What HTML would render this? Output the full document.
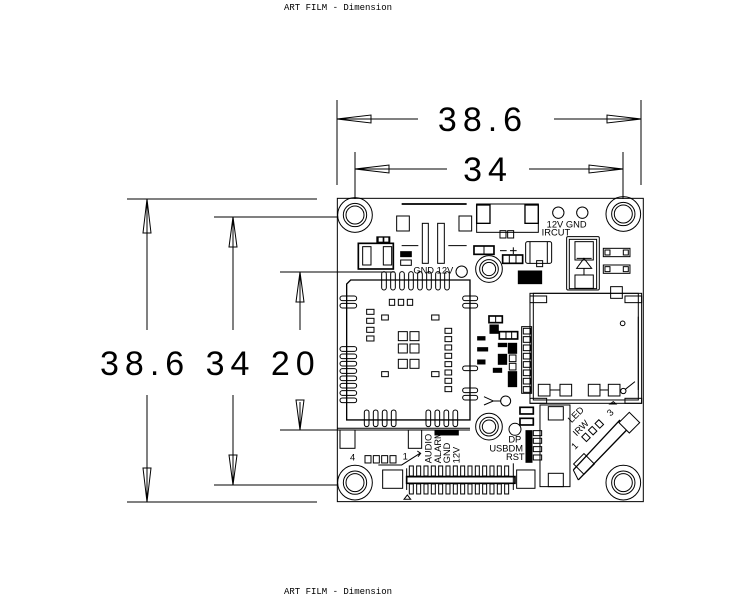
<!DOCTYPE html>
<html><head><meta charset="utf-8"><style>
html,body{margin:0;padding:0;background:#fff;}
svg{display:block;}
</style></head><body>
<svg width="742" height="603" viewBox="0 0 742 603" xmlns="http://www.w3.org/2000/svg" font-family="Liberation Sans, sans-serif">
<text x="338" y="10" font-family="Liberation Mono, monospace" font-size="9" text-anchor="middle" fill="#000">ART FILM - Dimension</text>
<text x="338" y="594" font-family="Liberation Mono, monospace" font-size="9" text-anchor="middle" fill="#000">ART FILM - Dimension</text>

<g stroke="#000" stroke-width="1" fill="none">
<!-- top dims -->
<line x1="337" y1="100" x2="337" y2="185"/><line x1="641" y1="100" x2="641" y2="185"/>
<line x1="337" y1="119" x2="418" y2="119"/><line x1="554" y1="119" x2="641" y2="119"/>
<path d="M337 119 L371 115 L371 123 Z M641 119 L607 115 L607 123 Z"/>
<line x1="355" y1="152" x2="355" y2="199"/><line x1="623" y1="152" x2="623" y2="199"/>
<line x1="355" y1="169" x2="447" y2="169"/><line x1="529" y1="169" x2="623" y2="169"/>
<path d="M355 169 L389 165 L389 173 Z M623 169 L589 165 L589 173 Z"/>
<!-- left dims -->
<line x1="127" y1="199" x2="317" y2="199"/><line x1="127" y1="502" x2="317" y2="502"/>
<line x1="147" y1="199" x2="147" y2="330"/><line x1="147" y1="395" x2="147" y2="502"/>
<path d="M147 199 L143 233 L151 233 Z M147 502 L143 468 L151 468 Z"/>
<line x1="214" y1="217" x2="337" y2="217"/><line x1="214" y1="485" x2="337" y2="485"/>
<line x1="233" y1="217" x2="233" y2="330"/><line x1="233" y1="395" x2="233" y2="485"/>
<path d="M233 217 L229 247 L237 247 Z M233 485 L229 455 L237 455 Z"/>
<line x1="280" y1="272" x2="395" y2="272"/><line x1="280" y1="430" x2="470" y2="430"/>
<line x1="300" y1="272" x2="300" y2="330"/><line x1="300" y1="402" x2="300" y2="430"/>
<path d="M300 272 L296 302 L304 302 Z M300 430 L296 400 L304 400 Z"/>
</g>
<g font-size="34" fill="#000" font-weight="normal" style="font-family:'Liberation Sans',sans-serif">
<text x="483" y="131" text-anchor="middle" letter-spacing="6">38.6</text>
<text x="488" y="181" text-anchor="middle" letter-spacing="6">34</text>
<text x="100" y="375" letter-spacing="6">38.6 34 20</text>
</g>

<g transform="translate(330,190) scale(0.3333)" stroke="#000" stroke-width="3" fill="none">
<rect x="22" y="25" width="918" height="910"/>
<!-- mounting holes -->
<g>
<circle cx="75" cy="75" r="52"/><circle cx="75" cy="75" r="35"/><circle cx="75" cy="75" r="27"/>
<circle cx="880" cy="72" r="52"/><circle cx="880" cy="72" r="35"/><circle cx="880" cy="72" r="27"/>
<circle cx="75" cy="878" r="52"/><circle cx="75" cy="878" r="35"/><circle cx="75" cy="878" r="27"/>
<circle cx="880" cy="878" r="52"/><circle cx="880" cy="878" r="35"/><circle cx="880" cy="878" r="27"/>
<circle cx="477" cy="237" r="40"/><circle cx="477" cy="237" r="28"/><circle cx="477" cy="237" r="20"/>
<circle cx="477" cy="710" r="40"/><circle cx="477" cy="710" r="28"/><circle cx="477" cy="710" r="20"/>
</g>
<line x1="215" y1="42" x2="410" y2="42" stroke-width="5"/>
<rect x="200" y="78" width="38" height="45"/><rect x="387" y="78" width="38" height="45"/>
<rect x="277" y="100" width="18" height="120"/><rect x="323" y="100" width="20" height="120"/>
<line x1="215" y1="167" x2="265" y2="167"/><line x1="355" y1="167" x2="410" y2="167"/>
<rect x="440" y="42" width="185" height="85"/>
<rect x="440" y="45" width="40" height="55" stroke-width="4"/><rect x="585" y="45" width="40" height="55" stroke-width="4"/>
<rect x="510" y="122" width="18" height="22"/><rect x="533" y="122" width="18" height="22"/>
<circle cx="685" cy="68" r="17"/><circle cx="757" cy="68" r="17"/>
<rect x="85" y="160" width="105" height="77" stroke-width="5"/>
<rect x="98" y="170" width="25" height="55"/><rect x="160" y="170" width="25" height="55"/>
<rect x="140" y="140" width="40" height="18" fill="#000" stroke-width="2"/>
<rect x="146" y="143" width="12" height="12" fill="#fff" stroke="none"/><rect x="163" y="143" width="12" height="12" fill="#fff" stroke="none"/>
<rect x="212" y="185" width="32" height="15" fill="#000"/><rect x="212" y="210" width="32" height="16"/>
<circle cx="395" cy="245" r="17"/>
<rect x="432" y="168" width="60" height="25" stroke-width="5"/><line x1="462" y1="168" x2="462" y2="193"/>
<line x1="510" y1="182" x2="530" y2="182"/><line x1="540" y1="182" x2="560" y2="182"/><line x1="550" y1="172" x2="550" y2="192"/>
<rect x="518" y="195" width="60" height="25" stroke-width="5"/><line x1="538" y1="195" x2="538" y2="220"/><line x1="558" y1="195" x2="558" y2="220"/>
<rect x="587" y="155" width="78" height="65" rx="6"/><line x1="600" y1="155" x2="600" y2="220"/><line x1="652" y1="155" x2="652" y2="220"/>
<rect x="620" y="212" width="18" height="18"/>
<rect x="565" y="243" width="70" height="38" fill="#000"/>
<rect x="718" y="148" width="82" height="148"/><rect x="710" y="140" width="98" height="160" rx="4"/>
<rect x="735" y="155" width="55" height="55"/><rect x="735" y="255" width="55" height="40"/>
<path d="M740 235 L785 235 L762 205 Z M740 205 L785 205 M762 235 L762 255"/>
<rect x="820" y="175" width="80" height="25"/><rect x="820" y="225" width="80" height="25"/>
<rect x="825" y="180" width="15" height="15"/><rect x="880" y="180" width="15" height="15"/>
<rect x="825" y="230" width="15" height="15"/><rect x="880" y="230" width="15" height="15"/>
<!-- module -->
<path d="M62 270 L420 270 L420 690 L50 690 L50 282 Z" stroke-width="4"/>
<g stroke-width="3">
<rect x="155" y="245" width="14" height="55" rx="7"/><rect x="182" y="245" width="14" height="55" rx="7"/><rect x="209" y="245" width="14" height="55" rx="7"/><rect x="236" y="245" width="14" height="55" rx="7"/><rect x="263" y="245" width="14" height="55" rx="7"/><rect x="290" y="245" width="14" height="55" rx="7"/><rect x="317" y="245" width="14" height="55" rx="7"/><rect x="344" y="245" width="14" height="55" rx="7"/>
<rect x="30" y="318" width="50" height="14" rx="7"/><rect x="30" y="340" width="50" height="14" rx="7"/>
<rect x="30" y="470" width="50" height="14" rx="7"/><rect x="30" y="492" width="50" height="14" rx="7"/><rect x="30" y="514" width="50" height="14" rx="7"/><rect x="30" y="536" width="50" height="14" rx="7"/><rect x="30" y="558" width="50" height="14" rx="7"/><rect x="30" y="580" width="50" height="14" rx="7"/><rect x="30" y="602" width="50" height="14" rx="7"/><rect x="30" y="624" width="50" height="14" rx="7"/>
<rect x="398" y="318" width="45" height="14" rx="7"/><rect x="398" y="340" width="45" height="14" rx="7"/><rect x="398" y="528" width="45" height="14" rx="7"/><rect x="398" y="594" width="45" height="14" rx="7"/><rect x="398" y="616" width="45" height="14" rx="7"/>
<rect x="103" y="660" width="14" height="50" rx="7"/><rect x="130" y="660" width="14" height="50" rx="7"/><rect x="157" y="660" width="14" height="50" rx="7"/><rect x="184" y="660" width="14" height="50" rx="7"/>
<rect x="288" y="660" width="14" height="50" rx="7"/><rect x="315" y="660" width="14" height="50" rx="7"/><rect x="342" y="660" width="14" height="50" rx="7"/><rect x="369" y="660" width="14" height="50" rx="7"/>
</g>
<rect x="178" y="328" width="16" height="18"/><rect x="205" y="328" width="16" height="18"/><rect x="232" y="328" width="16" height="18"/>
<rect x="110" y="358" width="22" height="15"/><rect x="110" y="385" width="22" height="15"/><rect x="110" y="412" width="22" height="15"/><rect x="110" y="438" width="22" height="15"/>
<rect x="155" y="375" width="20" height="15"/><rect x="305" y="375" width="22" height="15"/>
<rect x="205" y="425" width="27" height="27"/><rect x="240" y="425" width="27" height="27"/><rect x="205" y="462" width="27" height="27"/><rect x="240" y="462" width="27" height="27"/><rect x="205" y="508" width="27" height="27"/><rect x="240" y="508" width="27" height="27"/>
<rect x="345" y="415" width="20" height="15"/><rect x="345" y="440" width="20" height="15"/><rect x="345" y="465" width="20" height="15"/><rect x="345" y="490" width="20" height="15"/><rect x="345" y="515" width="20" height="15"/><rect x="345" y="540" width="20" height="15"/><rect x="345" y="565" width="20" height="15"/><rect x="345" y="590" width="20" height="15"/>
<rect x="155" y="545" width="20" height="15"/><rect x="305" y="545" width="22" height="15"/>
<!-- small smd -->
<rect x="477" y="378" width="40" height="20" stroke-width="5"/><line x1="497" y1="378" x2="497" y2="398"/>
<rect x="480" y="405" width="25" height="25" fill="#000"/>
<rect x="508" y="425" width="55" height="22" stroke-width="5"/><line x1="528" y1="425" x2="528" y2="447"/><line x1="545" y1="425" x2="545" y2="447"/>
<rect x="443" y="440" width="22" height="10" fill="#000"/><rect x="443" y="473" width="30" height="10" fill="#000"/><rect x="443" y="510" width="22" height="12" fill="#000"/>
<rect x="505" y="460" width="25" height="10" fill="#000"/><rect x="505" y="493" width="25" height="30" fill="#000"/><rect x="490" y="535" width="25" height="12" fill="#000"/>
<rect x="535" y="460" width="25" height="30" fill="#000"/><rect x="538" y="495" width="20" height="20"/><rect x="538" y="520" width="20" height="20"/>
<rect x="535" y="545" width="25" height="45" fill="#000"/>
<path d="M462 620 L490 633 L462 645 M490 633 L512 633"/><circle cx="527" cy="633" r="15"/>
<!-- SD -->
<rect x="600" y="310" width="335" height="330"/><rect x="610" y="310" width="315" height="320"/>
<rect x="600" y="318" width="50" height="20"/><rect x="885" y="318" width="50" height="20"/><rect x="842" y="290" width="35" height="35"/>
<rect x="600" y="625" width="50" height="15"/><rect x="885" y="625" width="50" height="15"/>
<circle cx="878" cy="400" r="7"/><line x1="925" y1="380" x2="925" y2="600"/>
<rect x="575" y="410" width="30" height="200"/>
<rect x="580" y="415" width="22" height="17"/><rect x="580" y="440" width="22" height="17"/><rect x="580" y="465" width="22" height="17"/><rect x="580" y="490" width="22" height="17"/><rect x="580" y="515" width="22" height="17"/><rect x="580" y="540" width="22" height="17"/><rect x="580" y="565" width="22" height="17"/><rect x="580" y="590" width="22" height="17"/>
<rect x="625" y="583" width="35" height="35"/><rect x="690" y="583" width="35" height="35"/><line x1="660" y1="600" x2="690" y2="600"/>
<rect x="775" y="583" width="35" height="35"/><rect x="835" y="583" width="35" height="35"/><line x1="810" y1="600" x2="835" y2="600"/>
<circle cx="880" cy="603" r="8"/><line x1="886" y1="598" x2="915" y2="575"/>
<path d="M840 642 L850 635 L858 642 Z"/>
<!-- lower right -->
<rect x="570" y="652" width="40" height="20" stroke-width="5"/><rect x="570" y="685" width="40" height="20" stroke-width="5"/>
<circle cx="555" cy="718" r="18"/>
<rect x="588" y="722" width="18" height="95" fill="#000"/>
<rect x="610" y="722" width="25" height="15"/><rect x="610" y="745" width="25" height="15"/><rect x="610" y="770" width="25" height="15"/><rect x="610" y="795" width="25" height="15"/>
<rect x="630" y="645" width="90" height="245"/><rect x="655" y="650" width="45" height="40"/><rect x="655" y="850" width="45" height="40"/>
<path d="M730 840 L870 690" stroke-width="4"/><path d="M745 870 L890 720" stroke-width="4"/>
<path d="M730 840 L745 870" />
<rect x="-22" y="-22" width="44" height="44" transform="translate(898 698) rotate(-45)"/>
<rect x="-22" y="-22" width="44" height="44" transform="translate(762 822) rotate(-45)"/>
<rect x="-8" y="-10" width="16" height="20" transform="translate(768 742) rotate(-45)"/>
<rect x="-8" y="-10" width="16" height="20" transform="translate(788 722) rotate(-45)"/>
<rect x="-8" y="-10" width="16" height="20" transform="translate(808 702) rotate(-45)"/>
<!-- bottom left -->
<line x1="22" y1="715" x2="420" y2="715"/>
<rect x="30" y="720" width="45" height="55"/><rect x="235" y="720" width="40" height="55"/>
<rect x="105" y="797" width="18" height="22"/><rect x="130" y="797" width="18" height="22"/><rect x="155" y="797" width="18" height="22"/><rect x="180" y="797" width="18" height="22"/>
<path d="M145 825 L215 825 L270 790 M262 783 L272 790 L264 800"/>
<rect x="315" y="723" width="70" height="12" fill="#000"/>
<!-- connector -->
<rect x="158" y="840" width="60" height="55"/><rect x="560" y="840" width="55" height="55"/>
<path d="M230 860 L555 860 L555 880 L230 880 Z" stroke-width="5"/>
<line x1="230" y1="835" x2="230" y2="900"/><line x1="550" y1="820" x2="550" y2="900"/>
<g stroke-width="3">
<rect x="238" y="828" width="12" height="30"/><rect x="260" y="828" width="12" height="30"/><rect x="282" y="828" width="12" height="30"/><rect x="304" y="828" width="12" height="30"/><rect x="326" y="828" width="12" height="30"/><rect x="348" y="828" width="12" height="30"/><rect x="370" y="828" width="12" height="30"/><rect x="392" y="828" width="12" height="30"/><rect x="414" y="828" width="12" height="30"/><rect x="436" y="828" width="12" height="30"/><rect x="458" y="828" width="12" height="30"/><rect x="480" y="828" width="12" height="30"/><rect x="502" y="828" width="12" height="30"/><rect x="524" y="828" width="12" height="30"/>
<rect x="238" y="882" width="12" height="30"/><rect x="260" y="882" width="12" height="30"/><rect x="282" y="882" width="12" height="30"/><rect x="304" y="882" width="12" height="30"/><rect x="326" y="882" width="12" height="30"/><rect x="348" y="882" width="12" height="30"/><rect x="370" y="882" width="12" height="30"/><rect x="392" y="882" width="12" height="30"/><rect x="414" y="882" width="12" height="30"/><rect x="436" y="882" width="12" height="30"/><rect x="458" y="882" width="12" height="30"/><rect x="480" y="882" width="12" height="30"/><rect x="502" y="882" width="12" height="30"/><rect x="524" y="882" width="12" height="30"/>
</g>
<path d="M222 928 L232 915 L242 928 Z"/>
</g>

<g transform="translate(330,190) scale(0.3333)" fill="#000" font-size="28">
<text x="650" y="112">12V GND</text>
<text x="635" y="137">IRCUT</text>
<text x="250" y="250">GND 12V</text>
<text x="60" y="812">4</text>
<text x="218" y="808">1</text>
<text x="535" y="758">DP</text>
<text x="478" y="785">USBDM</text>
<text x="528" y="810">RST</text>
<text x="842" y="680" transform="rotate(-45 842 680)">3</text>
<text x="735" y="780" transform="rotate(-45 735 780)">1</text>
<text x="725" y="700" transform="rotate(-45 725 700)">LED</text>
<text x="740" y="740" transform="rotate(-45 740 740)">IRW</text>
<text x="305" y="820" transform="rotate(-90 305 820)">AUDIO</text>
<text x="333" y="820" transform="rotate(-90 333 820)">ALARM</text>
<text x="360" y="820" transform="rotate(-90 360 820)">GND</text>
<text x="388" y="820" transform="rotate(-90 388 820)">12V</text>
</g>
</svg>
</body></html>
